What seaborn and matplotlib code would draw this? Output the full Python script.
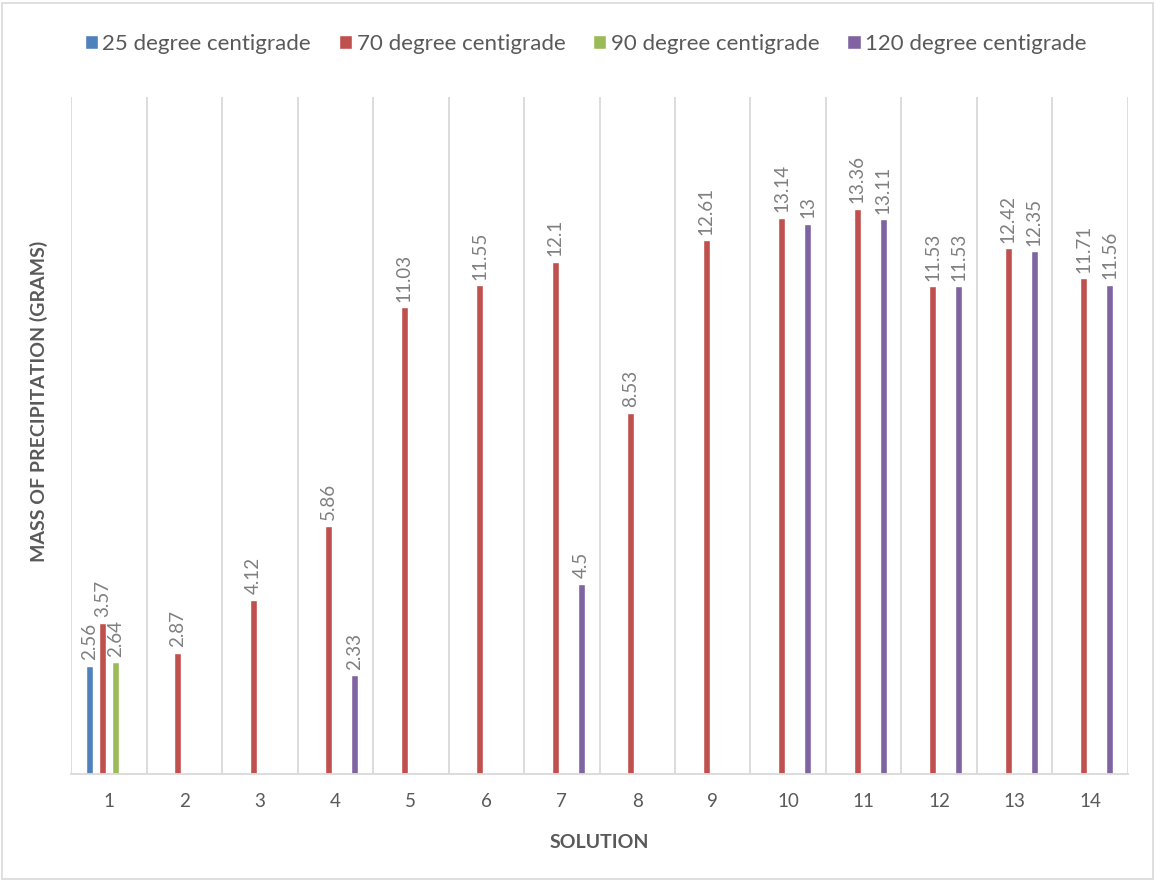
import numpy as np
import pandas as pd
import matplotlib
matplotlib.use("Agg")
import matplotlib.pyplot as plt
from matplotlib.patches import Rectangle
import seaborn as sns

solutions = [str(i) for i in range(1, 15)]
series_names = ["25 degree centigrade", "70 degree centigrade",
                "90 degree centigrade", "120 degree centigrade"]
nan = np.nan
v25 = [2.56, nan, nan, nan, nan, nan, nan, nan, nan, nan, nan, nan, nan, nan]
v70 = [3.57, 2.87, 4.12, 5.86, 11.03, 11.55, 12.1, 8.53, 12.61, 13.14, 13.36, 11.53, 12.42, 11.71]
v90 = [2.64, nan, nan, nan, nan, nan, nan, nan, nan, nan, nan, nan, nan, nan]
v120 = [nan, nan, nan, 2.33, nan, nan, 4.5, nan, nan, 13, 13.11, 11.53, 12.35, 11.56]
colors = ["#4F81BD", "#C0504D", "#9BBB59", "#8064A2"]

rows = []
for name, vals in zip(series_names, [v25, v70, v90, v120]):
    for s, v in zip(solutions, vals):
        if not np.isnan(v):
            rows.append({"Solution": s, "Series": name, "Mass": v})
df = pd.DataFrame(rows)

sns.set_style("white")
plt.rcParams["font.family"] = ["Lato", "DejaVu Sans"]

fig = plt.figure(figsize=(11.55, 8.81), dpi=100)
ax = fig.add_axes([0.0615, 0.1215, 0.9151, 0.7685])

sns.barplot(data=df, x="Solution", y="Mass", hue="Series", order=solutions,
            hue_order=series_names, palette=colors, errorbar=None,
            width=0.69, gap=0.45, saturation=1, ax=ax, legend=True)

for cont in ax.containers:
    ax.bar_label(cont, fmt="%g", rotation=90, padding=4, color="#7F7F7F", fontsize=13.5)

ax.set_xlim(-0.5, 13.5)
ax.set_ylim(0, 16)
ax.set_yticks([])
for k in range(15):
    ax.axvline(k - 0.5, color="#D9D9D9", lw=1.3, zorder=0)
for sp in ["top", "right", "left"]:
    ax.spines[sp].set_visible(False)
ax.spines["bottom"].set_color("#D9D9D9")
ax.spines["bottom"].set_linewidth(1.3)
ax.tick_params(axis="x", length=0, pad=14, labelsize=13.5, labelcolor="#595959")

ax.set_xlabel("SOLUTION", fontsize=14, fontweight="bold", color="#595959", labelpad=17)
ax.set_ylabel("MASS OF PRECIPITATION (GRAMS)", fontsize=14, fontweight="bold", color="#595959")
ax.yaxis.set_label_coords(-0.022, 0.55)

handles, labels = ax.get_legend_handles_labels()
ax.legend_.remove()
fig.legend(handles, labels, loc="center", bbox_to_anchor=(0.507, 0.95), ncol=4,
           frameon=False, fontsize=16, handlelength=0.6, handleheight=0.6,
           handletextpad=0.2, columnspacing=1.25, labelcolor="#595959")

fig.patches.append(Rectangle((0.002, 0.002), 0.996, 0.995, transform=fig.transFigure,
                             fill=False, edgecolor="#D9D9D9", lw=1.2))

fig.savefig("out.png", dpi=100)
